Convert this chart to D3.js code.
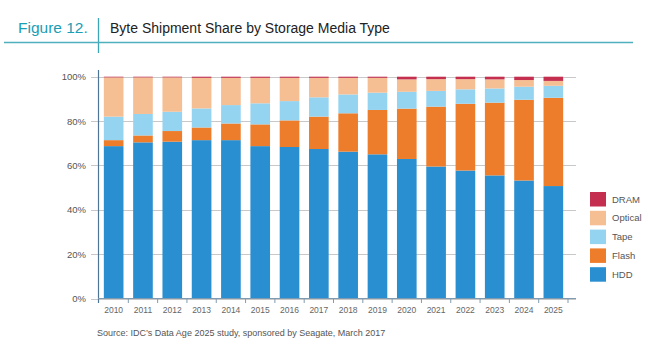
<!DOCTYPE html>
<meta charset="utf-8">
<script src="https://cdn.jsdelivr.net/npm/d3@7/dist/d3.min.js"></script>
<style>
body { margin: 0; background: #fff; }
text { font-family: "Liberation Sans", Arial, sans-serif; }
</style>
<body>
<script>

var years = ["2010","2011","2012","2013","2014","2015","2016","2017",
             "2018","2019","2020","2021","2022","2023","2024","2025"];
// percent share per year
var hdd     = [68.7, 70.4, 70.7, 71.4, 71.4, 68.7, 68.3, 67.4, 66.2, 65.0, 62.9, 59.5, 57.7, 55.5, 53.2, 50.7];
var flash   = [ 2.7,  3.1,  4.8,  5.7,  7.5,  9.8, 12.0, 14.6, 17.3, 20.0, 22.7, 27.0, 30.1, 32.8, 36.4, 39.8];
var tape    = [10.6,  9.7,  8.7,  8.6,  8.3,  9.5,  8.7,  8.7,  8.5,  7.8,  7.6,  7.1,  6.5,  6.4,  5.9,  5.4];
var optical = [17.7, 16.5, 15.5, 13.8, 12.3, 11.5, 10.5,  8.8,  7.5,  6.7,  5.6,  5.3,  4.6,  4.1,  3.0,  2.2];
var dram    = [ 0.3,  0.3,  0.3,  0.5,  0.5,  0.5,  0.5,  0.5,  0.5,  0.5,  1.2,  1.1,  1.1,  1.2,  1.5,  1.9];
var yTicks = [0, 20, 40, 60, 80, 100];

var keys = ["HDD", "Flash", "Tape", "Optical", "DRAM"];
var colors = {HDD: "#2a8fd1", Flash: "#ee7d2b", Tape: "#95d4f1", Optical: "#f5be93", DRAM: "#c42f4f"};

var rows = years.map(function(y, i) {
  return {year: y, HDD: hdd[i], Flash: flash[i], Tape: tape[i], Optical: optical[i], DRAM: dram[i]};
});

var width = 648, height = 353;
var svg = d3.select("body").append("svg")
    .attr("width", width)
    .attr("height", height);

// header
svg.append("text").attr("x", 18).attr("y", 33)
    .style("font-size", "15.5px").style("fill", "#1b9db3")
    .text("Figure 12.");
svg.append("line").attr("x1", 98.5).attr("x2", 98.5).attr("y1", 18).attr("y2", 53)
    .style("stroke", "#3aa6b6").style("stroke-width", 1.3);
svg.append("line").attr("x1", 4).attr("x2", 633).attr("y1", 42.5).attr("y2", 42.5)
    .style("stroke", "#4fb0bd").style("stroke-width", 1.6);
svg.append("text").attr("x", 110).attr("y", 33)
    .style("font-size", "14px").style("fill", "#222")
    .text("Byte Shipment Share by Storage Media Type");

var x = d3.scaleBand().domain(years).range([99, 568]).paddingInner(0.33).paddingOuter(0.165);
var y = d3.scaleLinear().domain([0, 100]).range([298.5, 76.7]);

// grid
svg.append("g").selectAll("line").data(yTicks).enter().append("line")
    .attr("x1", 91).attr("x2", 576)
    .attr("y1", function(d) { return Math.round(y(d)) + 0.5; })
    .attr("y2", function(d) { return Math.round(y(d)) + 0.5; })
    .style("stroke", "#c8c8c8");

svg.append("g").selectAll("text").data(yTicks).enter().append("text")
    .attr("x", 86).attr("y", function(d) { return y(d) + 3.5; })
    .attr("text-anchor", "end")
    .style("font-size", "9.5px").style("fill", "#555")
    .text(function(d) { return d + "%"; });

// bars
var series = d3.stack().keys(keys)(rows);
svg.append("g").selectAll("g").data(series).enter().append("g")
    .style("fill", function(d) { return colors[d.key]; })
  .selectAll("rect").data(function(d) { return d; }).enter().append("rect")
    .attr("x", function(d) { return x(d.data.year); })
    .attr("width", x.bandwidth())
    .attr("y", function(d) { return y(d[1]); })
    .attr("height", function(d) { return y(d[0]) - y(d[1]); });

// axes
svg.append("line").attr("x1", 98.5).attr("x2", 98.5).attr("y1", 70).attr("y2", 303)
    .style("stroke", "#4f7596").style("stroke-width", 1.2);
svg.append("line").attr("x1", 98).attr("x2", 576).attr("y1", 298.5).attr("y2", 298.5)
    .style("stroke", "#7f9bb2").style("stroke-width", 1);
var bounds = years.slice(1).map(function(yr) { return x(yr) - x.step() * x.paddingInner() / 2; });
bounds.push(x(years[years.length - 1]) + x.bandwidth() + x.step() * x.paddingInner() / 2);
svg.append("g").selectAll("line").data(bounds).enter().append("line")
    .attr("x1", function(d) { return d; }).attr("x2", function(d) { return d; })
    .attr("y1", 298.5).attr("y2", 303)
    .style("stroke", "#7f9bb2");

svg.append("g").selectAll("text").data(years).enter().append("text")
    .attr("x", function(d) { return x(d) + x.bandwidth() / 2; })
    .attr("y", 313)
    .attr("text-anchor", "middle")
    .style("font-size", "8.5px").style("fill", "#666")
    .text(function(d) { return d; });

// legend (top to bottom: DRAM ... HDD)
var legendKeys = keys.slice().reverse();
var legend = svg.append("g").selectAll("g").data(legendKeys).enter().append("g")
    .attr("transform", function(d, i) { return "translate(590," + (192 + i * 18.8) + ")"; });
legend.append("rect").attr("width", 16).attr("height", 14.5)
    .style("fill", function(d) { return colors[d]; });
legend.append("text").attr("x", 22).attr("y", 10.5)
    .style("font-size", "9.5px").style("fill", "#555")
    .text(function(d) { return d; });

svg.append("text").attr("x", 97).attr("y", 336)
    .style("font-size", "9px").style("fill", "#555")
    .text("Source: IDC\u2019s Data Age 2025 study, sponsored by Seagate, March 2017");

</script>
</body>
